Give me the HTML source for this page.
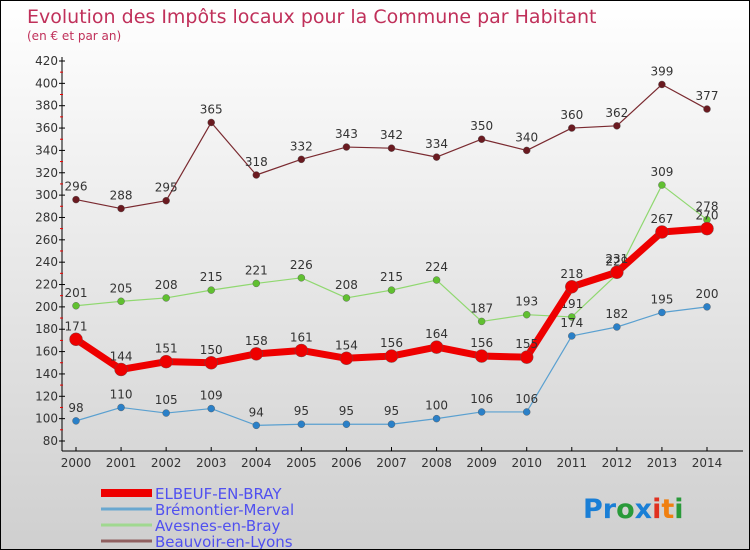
<!DOCTYPE html>
<html><head><meta charset="utf-8"><style>
body{margin:0}
#c{width:750px;height:550px;position:relative;box-sizing:border-box;border:1px solid #000;background:linear-gradient(#ffffff,#cfcfcf);font-family:"DejaVu Sans","Liberation Sans",sans-serif;overflow:hidden}
</style></head><body>
<div id="c">
<svg id="s" width="748" height="548" style="position:absolute;left:0;top:0">
<text x="26" y="22" font-size="19" fill="#c0305a">Evolution des Impôts locaux pour la Commune par Habitant</text>
<text x="26" y="39" font-size="12" fill="#c0305a">(en € et par an)</text>
<g id="axes"></g><g id="series"></g><g id="legend"></g>
<text x="582" y="517" font-size="27" font-weight="bold"><tspan fill="#1a7fd6">Pr</tspan><tspan fill="#2a9a3a">o</tspan><tspan fill="#1a7fd6">x</tspan><tspan fill="#e03020">i</tspan><tspan fill="#f08010">t</tspan><tspan fill="#2a9a3a">i</tspan></text>
</svg></div>
<script>
const years=[2000,2001,2002,2003,2004,2005,2006,2007,2008,2009,2010,2011,2012,2013,2014];
const elbeuf=[171,144,151,150,158,161,154,156,164,156,155,218,231,267,270];
const bremontier=[98,110,105,109,94,95,95,95,100,106,106,174,182,195,200];
const avesnes=[201,205,208,215,221,226,208,215,224,187,193,191,229,309,278];
const beauvoir=[296,288,295,365,318,332,343,342,334,350,340,360,362,399,377];
const yTicks=[80,100,120,140,160,180,200,220,240,260,280,300,320,340,360,380,400,420];
const NS="http://www.w3.org/2000/svg";
const X=i=>75+i*(706-75)/14, Y=v=>440-(v-80)*380/340;
function mk(p,t,a){const e=document.createElementNS(NS,t);for(const k in a)e.setAttribute(k,a[k]);p.appendChild(e);return e;}
const ax=document.getElementById('axes');
let l=mk(ax,'line',{x1:61,y1:56,x2:61,y2:450,stroke:'#000'});

l=mk(ax,'line',{x1:61,y1:450,x2:742,y2:450,stroke:'#000'});

yTicks.forEach((v,i)=>{const y=Y(v);mk(ax,'line',{x1:58,y1:y,x2:64,y2:y,stroke:'#000'});
if(i<yTicks.length-1)mk(ax,'line',{x1:59,y1:y-11.2,x2:62,y2:y-11.2,stroke:'#e00'});
const t=mk(ax,'text',{x:57,y:y+4,'font-size':12,fill:'#333','text-anchor':'end'});t.textContent=v;
});
years.forEach((yr,i)=>{const x=X(i);mk(ax,'line',{x1:x,y1:446,x2:x,y2:450,stroke:'#000'});
const t=mk(ax,'text',{x:x,y:466,'font-size':12,fill:'#333','text-anchor':'middle'});t.textContent=yr;
});
const sg=document.getElementById('series');
function series(name,data,color,w,r,dot){
const g=mk(sg,'g',{});
mk(g,'polyline',{points:data.map((v,i)=>X(i)+','+Y(v)).join(' '),fill:'none',stroke:color,'stroke-width':w,'stroke-linejoin':'round'});
data.forEach((v,i)=>{const c=mk(g,'circle',{cx:X(i),cy:Y(v),r:r,fill:dot,stroke:'#555','stroke-width':0.4});

const t=mk(g,'text',{x:X(i),y:Y(v)-9,'font-size':12,fill:'#333','text-anchor':'middle'});t.textContent=v;
});}
series('beauvoir',beauvoir,'#7a2a30',1.2,3.5,'#6a1a20');
series('avesnes',avesnes,'#90d870',1.2,3.5,'#60c030');
series('bremontier',bremontier,'#5aa0d0',1.2,3.5,'#2a80c8');
series('elbeuf',elbeuf,'#ee0000',7,6.5,'#ee0000');
const lg=document.getElementById('legend');
[['ELBEUF-EN-BRAY','#ee0000',8],['Brémontier-Merval','#6aa8d0',3],['Avesnes-en-Bray','#a0d890',3],['Beauvoir-en-Lyons','#906060',3]].forEach((d,i)=>{
const y=492+i*16;const g=mk(lg,'g',{});
mk(g,'line',{x1:100,y1:y,x2:151,y2:y,stroke:d[1],'stroke-width':d[2]});
const t=mk(g,'text',{x:154,y:y+6,'font-size':15,fill:'#5050f0'});t.textContent=d[0];});
</script></body></html>
